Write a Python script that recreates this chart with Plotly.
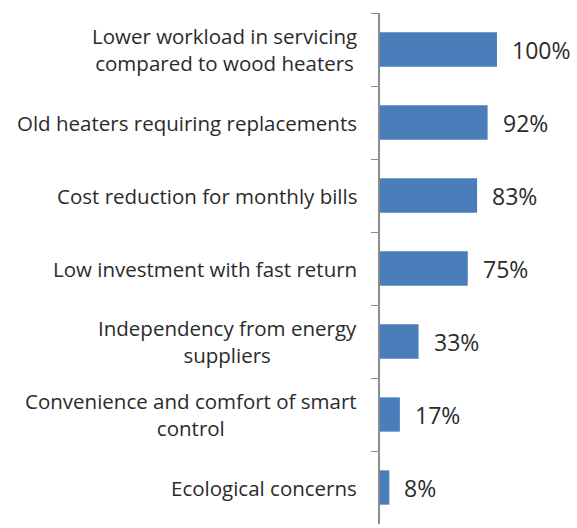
import plotly.graph_objects as go

# Survey reasons, top to bottom; "\n" marks where a label wraps
categories = [
    "Lower workload in servicing\ncompared to wood heaters",
    "Old heaters requiring replacements",
    "Cost reduction for monthly bills",
    "Low investment with fast return",
    "Independency from energy\nsuppliers",
    "Convenience and comfort of smart\ncontrol",
    "Ecological concerns",
]
shares = [100, 92, 83, 75, 33, 17, 8]

BAR = "#4A7EBB"
TEXT = "#2b2b2b"
FONT = "Open Sans"

keys = [c.replace("\n", " ") for c in categories]

fig = go.Figure(
    go.Bar(
        x=shares,
        y=keys,
        orientation="h",
        marker=dict(color=BAR, line=dict(width=0)),
        width=0.47,
        hoverinfo="skip",
    )
)

annotations = []
# category labels to the left of the axis; wrapped lines are centred in their block
for key, cat in zip(keys, categories):
    annotations.append(dict(
        x=0, y=key, xref="paper", yref="y", text=cat.replace("\n", "<br>"),
        showarrow=False, align="center",
        xanchor="right", yanchor="middle", xshift=-21,
        font=dict(family=FONT, size=20.5, color=TEXT),
    ))
# value labels after each bar
for key, v in zip(keys, shares):
    annotations.append(dict(
        x=v, y=key, xref="x", yref="y", text=f"{v}%", showarrow=False,
        xanchor="left", yanchor="middle", xshift=13,
        font=dict(family=FONT, size=23, color=TEXT),
    ))

fig.update_layout(
    width=577, height=528,
    margin=dict(l=380, r=0, t=13, b=4),
    paper_bgcolor="white", plot_bgcolor="white",
    showlegend=False,
    bargap=0.53,
    annotations=annotations,
    xaxis=dict(range=[0, 168.4], visible=False, fixedrange=True),
    yaxis=dict(
        categoryorder="array", categoryarray=keys, autorange="reversed",
        showticklabels=False, showgrid=False, zeroline=False,
        showline=True, linecolor="#8c8c8c", linewidth=1.5,
        ticks="outside", tickson="boundaries", ticklen=7, tickcolor="#8c8c8c",
        tickwidth=1, fixedrange=True,
    ),
)

fig.write_html("out.html")
